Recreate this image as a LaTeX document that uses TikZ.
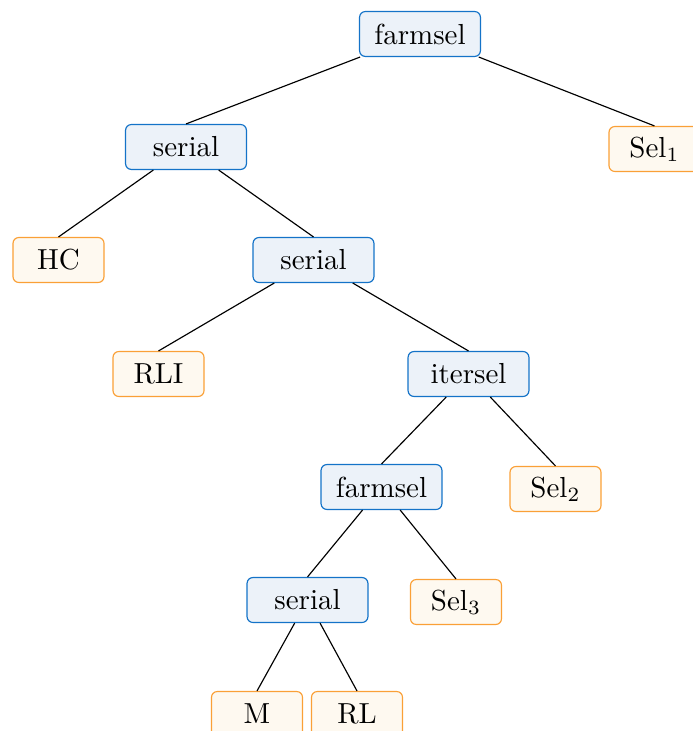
\documentclass[tikz,border=0pt]{standalone}
\definecolor{bborder}{RGB}{20,115,200}
\definecolor{bfill}{RGB}{236,242,249}
\definecolor{oborder}{RGB}{250,160,55}
\definecolor{ofill}{RGB}{254,249,240}
\tikzset{
  opbox/.style={draw=bborder, fill=bfill, rounded corners=2pt, minimum width=41.7pt, minimum height=15.5pt, inner sep=2pt, line width=0.4pt},
  leafbox/.style={draw=oborder, fill=ofill, rounded corners=2pt, minimum width=31.4pt, minimum height=15.5pt, inner sep=2pt, line width=0.4pt},
  edge/.style={draw=black, line width=0.4pt}
}
\begin{document}
\begin{tikzpicture}[x=0.345pt, y=-0.345pt]
\useasboundingbox (0,0) rectangle (692,731);
\node[opbox] (fs1) at (420,34) {farmsel};
\node[opbox] (se1) at (186,147) {serial};
\node[leafbox] (sel1) at (654.5,149) {Sel$_1$};
\node[leafbox] (hc) at (58.5,260) {HC};
\node[opbox] (se2) at (313.5,260) {serial};
\node[leafbox] (rli) at (158.5,374) {RLI};
\node[opbox] (it) at (468.5,374) {itersel};
\node[opbox] (fs2) at (381.5,487) {farmsel};
\node[leafbox] (sel2) at (555.5,489) {Sel$_2$};
\node[opbox] (se3) at (307.5,600) {serial};
\node[leafbox] (sel3) at (456,602) {Sel$_3$};
\node[leafbox] (m) at (257,714) {M};
\node[leafbox] (rl) at (357,714) {RL};
\draw[edge] (fs1) -- (se1.north);
\draw[edge] (fs1) -- (sel1.north);
\draw[edge] (se1) -- (hc.north);
\draw[edge] (se1) -- (se2.north);
\draw[edge] (se2) -- (rli.north);
\draw[edge] (se2) -- (it.north);
\draw[edge] (it) -- (fs2.north);
\draw[edge] (it) -- (sel2.north);
\draw[edge] (fs2) -- (se3.north);
\draw[edge] (fs2) -- (sel3.north);
\draw[edge] (se3) -- (m.north);
\draw[edge] (se3) -- (rl.north);
\end{tikzpicture}
\end{document}
